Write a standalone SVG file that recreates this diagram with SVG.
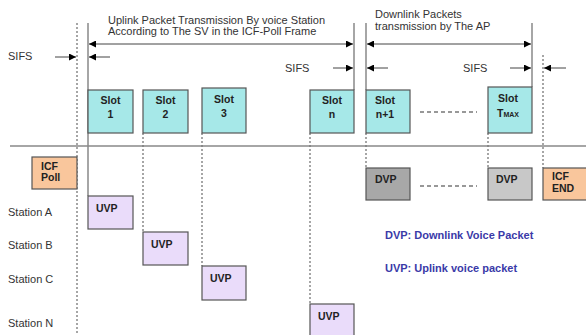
<svg xmlns="http://www.w3.org/2000/svg" width="586" height="335" viewBox="0 0 586 335">
<defs>
<marker id="ah" viewBox="0 0 10 10" refX="10" refY="5" markerWidth="7" markerHeight="7" orient="auto-start-reverse" markerUnits="userSpaceOnUse"><path d="M0,0 L10,5 L0,10 z" fill="#000"/></marker>
<style>
text{font-family:"Liberation Sans",Arial,sans-serif;font-size:11px;fill:#333}
.b{font-weight:bold;fill:#222;font-size:10.5px}
.slot{fill:#a6e8e8;stroke:#555;stroke-width:1.2}
.uvp{fill:#eadcfa;stroke:#555;stroke-width:1.2}
.icf{fill:#f9c69c;stroke:#555;stroke-width:1.2}
.sol{stroke:#888;stroke-width:1.5;fill:none}
.dot{stroke:#777;stroke-width:1.3;stroke-dasharray:2,2;fill:none}
.arr{stroke:#444;stroke-width:1;fill:none}
.leg{fill:#3a3aa8;font-weight:bold;font-size:11px}
</style>
</defs>
<g id="connectors">
<line class="sol" x1="10" y1="146" x2="586" y2="146"/>
<line class="dot" x1="77" y1="23" x2="77" y2="335"/>
<line class="sol" x1="88" y1="23" x2="88" y2="196"/>
<line class="sol" x1="354" y1="23" x2="354" y2="90"/>
<line class="sol" x1="366" y1="23" x2="366" y2="90"/>
<line class="sol" x1="532" y1="23" x2="532" y2="87"/>
<line class="dot" x1="543" y1="55" x2="543" y2="168"/>
<line class="dot" x1="143" y1="133" x2="143" y2="232"/>
<line class="dot" x1="202" y1="133" x2="202" y2="266"/>
<line class="dot" x1="310" y1="133" x2="310" y2="304"/>
<line class="dot" x1="366" y1="133" x2="366" y2="168"/>
<line class="dot" x1="488" y1="133" x2="488" y2="168"/>
<line class="dot" x1="420" y1="112" x2="477" y2="112" style="stroke-dasharray:4,3"/>
<line class="dot" x1="420" y1="186" x2="477" y2="186" style="stroke-dasharray:4,3"/>
<line class="arr" x1="89" y1="44" x2="353" y2="44" marker-start="url(#ah)" marker-end="url(#ah)"/>
<line class="arr" x1="367" y1="44" x2="531" y2="44" marker-start="url(#ah)" marker-end="url(#ah)"/>
<line class="arr" x1="55" y1="57" x2="76" y2="57" marker-end="url(#ah)"/>
<line class="arr" x1="110" y1="57" x2="89" y2="57" marker-end="url(#ah)"/>
<line class="arr" x1="333" y1="68" x2="353" y2="68" marker-end="url(#ah)"/>
<line class="arr" x1="388" y1="68" x2="367" y2="68" marker-end="url(#ah)"/>
<line class="arr" x1="510" y1="68" x2="531" y2="68" marker-end="url(#ah)"/>
<line class="arr" x1="566" y1="68" x2="544" y2="68" marker-end="url(#ah)"/>
</g>
<g id="labels">
<text x="108" y="24" font-size="10">Uplink Packet Transmission By voice Station</text>
<text x="108" y="35" font-size="10">According to The SV in the ICF-Poll Frame</text>
<text x="375" y="18">Downlink Packets</text>
<text x="375" y="30">transmission by The AP</text>
<text x="8" y="60">SIFS</text>
<text x="285" y="72">SIFS</text>
<text x="463" y="72">SIFS</text>
<text x="8" y="216">Station A</text>
<text x="8" y="249">Station B</text>
<text x="8" y="283">Station C</text>
<text x="8" y="327">Station N</text>
<text class="leg" x="385" y="239">DVP: Downlink Voice Packet</text>
<text class="leg" x="385" y="272">UVP: Uplink voice packet</text>
</g>
<g id="slot1"><rect class="slot" x="88" y="90" width="45" height="43"/><text class="b" x="110.5" y="104" text-anchor="middle">Slot</text><text class="b" x="110.5" y="118" text-anchor="middle">1</text></g>
<g id="slot2"><rect class="slot" x="143" y="90" width="45" height="43"/><text class="b" x="165.5" y="104" text-anchor="middle">Slot</text><text class="b" x="165.5" y="118" text-anchor="middle">2</text></g>
<g id="slot3"><rect class="slot" x="202" y="88" width="44" height="45"/><text class="b" x="224" y="103" text-anchor="middle">Slot</text><text class="b" x="224" y="117" text-anchor="middle">3</text></g>
<g id="slotn"><rect class="slot" x="310" y="90" width="44" height="43"/><text class="b" x="332" y="104" text-anchor="middle">Slot</text><text class="b" x="332" y="118" text-anchor="middle">n</text></g>
<g id="slotn1"><rect class="slot" x="366" y="90" width="44" height="43"/><text class="b" x="385" y="104" text-anchor="middle">Slot</text><text class="b" x="385" y="118" text-anchor="middle">n+1</text></g>
<g id="slottmax"><rect class="slot" x="488" y="87" width="44" height="46"/><text class="b" x="508" y="102" text-anchor="middle">Slot</text><text class="b" x="508" y="117" text-anchor="middle">T<tspan font-size="7">MAX</tspan></text></g>
<g id="icfpoll"><rect class="icf" x="32" y="157" width="45" height="32"/><text class="b" x="41" y="170" font-size="9.5">ICF</text><text class="b" x="41" y="181" font-size="9.5">Poll</text></g>
<g id="icfend"><rect class="icf" x="543" y="168" width="50" height="32"/><text class="b" x="552" y="180" font-size="9.5">ICF</text><text class="b" x="552" y="192" font-size="9.5">END</text></g>
<g id="uvpa"><rect class="uvp" x="88" y="196" width="45" height="33"/><text class="b" x="96" y="212">UVP</text></g>
<g id="uvpb"><rect class="uvp" x="143" y="232" width="45" height="33"/><text class="b" x="151" y="248">UVP</text></g>
<g id="uvpc"><rect class="uvp" x="202" y="266" width="44" height="34"/><text class="b" x="210" y="282">UVP</text></g>
<g id="uvpn"><rect class="uvp" x="310" y="304" width="44" height="40"/><text class="b" x="318" y="320">UVP</text></g>
<g id="dvp1"><rect x="366" y="168" width="44" height="32" fill="#a8a8a8" stroke="#555" stroke-width="1.2"/><text class="b" x="375" y="183">DVP</text></g>
<g id="dvp2"><rect x="488" y="168" width="44" height="32" fill="#c8c8c8" stroke="#555" stroke-width="1.2"/><text class="b" x="496" y="183">DVP</text></g>
</svg>
